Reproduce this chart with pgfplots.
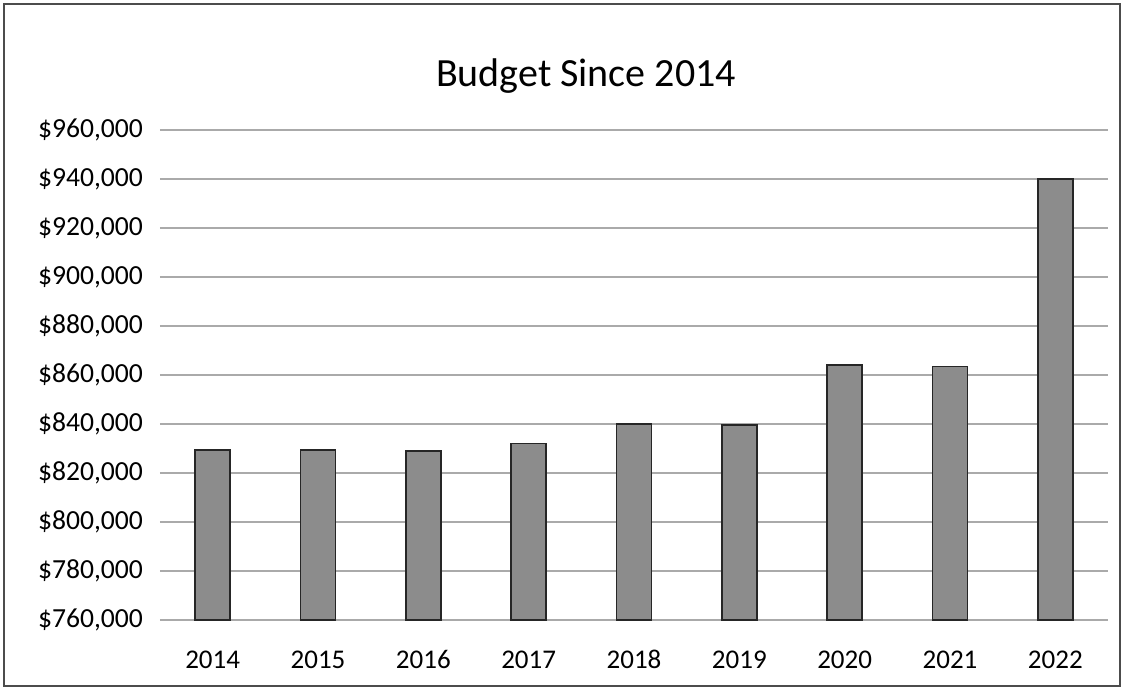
\documentclass[border=0pt]{standalone}
\usepackage{fontspec}
\setmainfont{Carlito}
\usepackage{pgfplots}
\pgfplotsset{compat=1.18}

\definecolor{barfill}{RGB}{140,140,140}
\definecolor{gridc}{RGB}{170,170,170}

\begin{document}
\begin{tikzpicture}
% picture frame (scanned page border)
\path[draw=black!70, line width=0.8pt] (2pt,2pt) rectangle (560pt,343pt);
\path (0,0) rectangle (562pt,345pt);
\node[font=\fontsize{20}{24}\selectfont] at (293pt,307pt) {Budget Since 2014};

\begin{axis}[
    at={(80pt,35pt)}, anchor=south west,
    scale only axis,
    width=474pt, height=245pt,
    ybar, bar width=17.5pt,
    xmin=-0.5, xmax=8.5,
    ymin=760000, ymax=960000,
    xtick=data,
    xticklabels={2014,2015,2016,2017,2018,2019,2020,2021,2022},
    ytick={760000,780000,...,960000},
    scaled y ticks=false,
    yticklabel={\$\pgfmathprintnumber[fixed,precision=0,1000 sep={,}]{\tick}},
    /pgf/number format/assume math mode=true,
    ymajorgrids,
    grid style={gridc, line width=0.7pt},
    axis line style={draw=none},
    major tick length=0pt,
    yticklabel style={font=\fontsize{13.8}{16}\selectfont, xshift=-5pt},
    xticklabel style={font=\fontsize{13.5}{16}\selectfont, yshift=-11pt,
        text height=9.5pt, text depth=0pt},
    clip=false,
]
\addplot[fill=barfill, draw=black!85, line width=0.8pt] coordinates {
    (0,829500) (1,829500) (2,829000) (3,832000) (4,840000)
    (5,839500) (6,864000) (7,863500) (8,940000)
};
\end{axis}
\end{tikzpicture}
\end{document}
